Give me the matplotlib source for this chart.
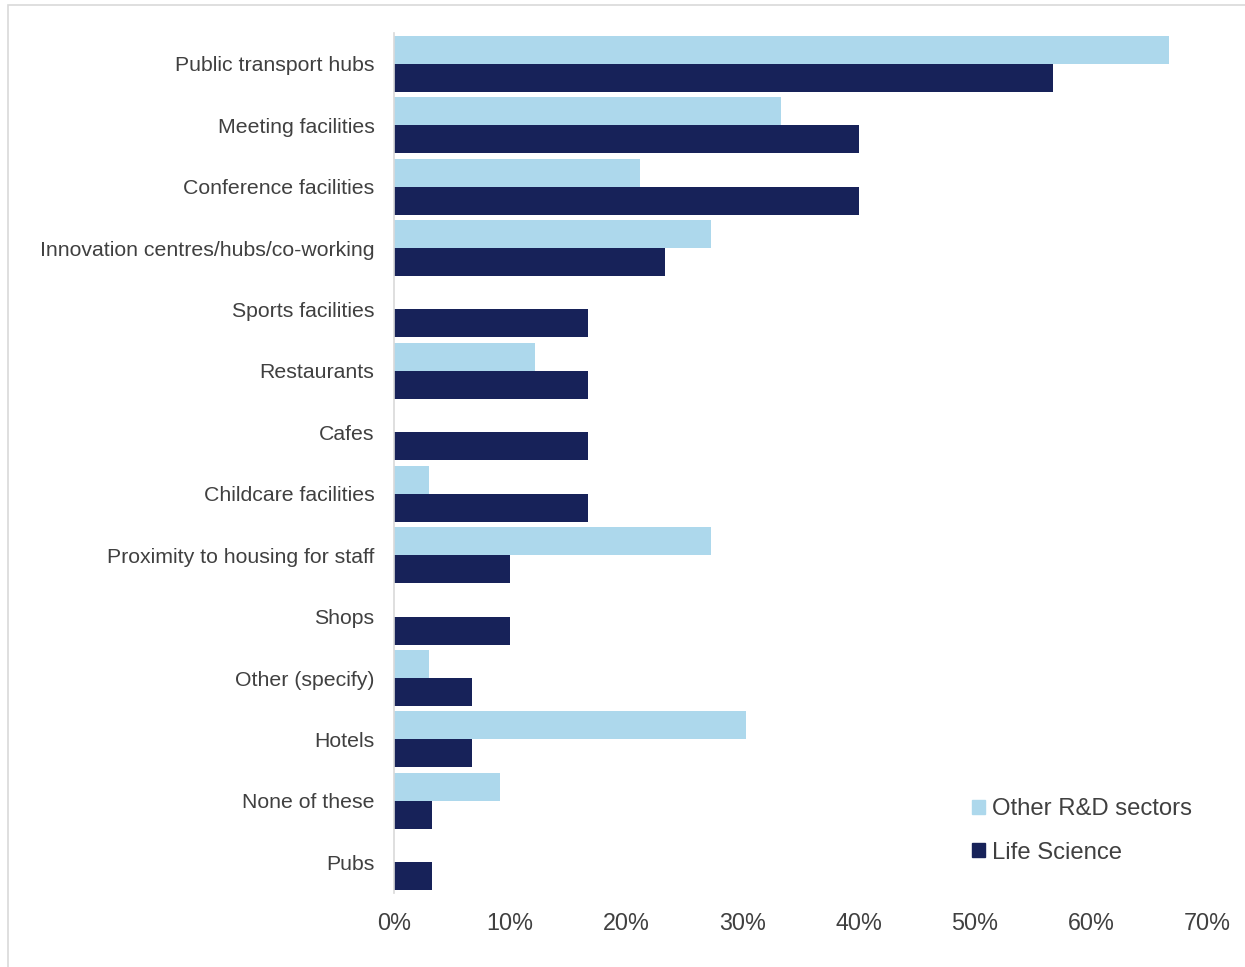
import matplotlib
matplotlib.use('Agg')
import matplotlib.pyplot as plt
from matplotlib.patches import Rectangle, Patch
import numpy as np

plt.rcParams['font.family'] = ['Liberation Sans', 'DejaVu Sans']

amenities = ['Public transport hubs', 'Meeting facilities', 'Conference facilities',
             'Innovation centres/hubs/co-working', 'Sports facilities', 'Restaurants',
             'Cafes', 'Childcare facilities', 'Proximity to housing for staff', 'Shops',
             'Other (specify)', 'Hotels', 'None of these', 'Pubs']
other_rd = [66.7, 33.3, 21.2, 27.3, 0.0, 12.1, 0.0, 3.0, 27.3, 0.0, 3.0, 30.3, 9.1, 0.0]
life_sci = [56.7, 40.0, 40.0, 23.3, 16.7, 16.7, 16.7, 16.7, 10.0, 10.0, 6.7, 6.7, 3.3, 3.3]

LIGHT = '#ADD8EC'
DARK = '#172259'
TXT = '#404040'

fig = plt.figure(figsize=(12.45, 9.67), dpi=100)
# thin grey frame around the chart area
fig.patches.append(Rectangle((8 / 1245, -0.01), 1.1, 1 - 5 / 967 + 0.01,
                             transform=fig.transFigure, fill=False,
                             edgecolor='#D9D9D9', lw=1.2))
ax = fig.add_axes([394 / 1245, 1 - 893 / 967, (1207 - 394) / 1245, (893 - 33) / 967])

y = np.arange(len(amenities))
h = 0.455
ax.barh(y - h / 2, other_rd, height=h, color=LIGHT, label='Other R&D sectors')
ax.barh(y + h / 2, life_sci, height=h, color=DARK, label='Life Science')

ax.set_ylim(len(amenities) - 0.5, -0.5)
ax.set_xlim(0, 70)
ax.set_yticks(y)
ax.set_yticklabels(amenities)
ax.set_xticks(np.arange(0, 71, 10))
ax.set_xticklabels(['%d%%' % v for v in range(0, 71, 10)])
ax.tick_params(axis='y', length=0, pad=14, labelsize=15.3, labelcolor=TXT)
ax.tick_params(axis='x', length=0, pad=14, labelsize=16.8, labelcolor=TXT)

for s in ['top', 'right', 'bottom']:
    ax.spines[s].set_visible(False)
ax.spines['left'].set_color('#D9D9D9')
ax.spines['left'].set_linewidth(1.2)

handles = [Patch(color=LIGHT), Patch(color=DARK)]
leg = fig.legend(handles, ['Other R&D sectors', 'Life Science'], loc='center left',
                 bbox_to_anchor=(950 / 1245, 1 - 831 / 967), frameon=False,
                 handlelength=0.55, handleheight=0.55, handletextpad=0.3,
                 labelspacing=0.9, fontsize=17.2, labelcolor=TXT)

fig.savefig('out.png', dpi=100)
